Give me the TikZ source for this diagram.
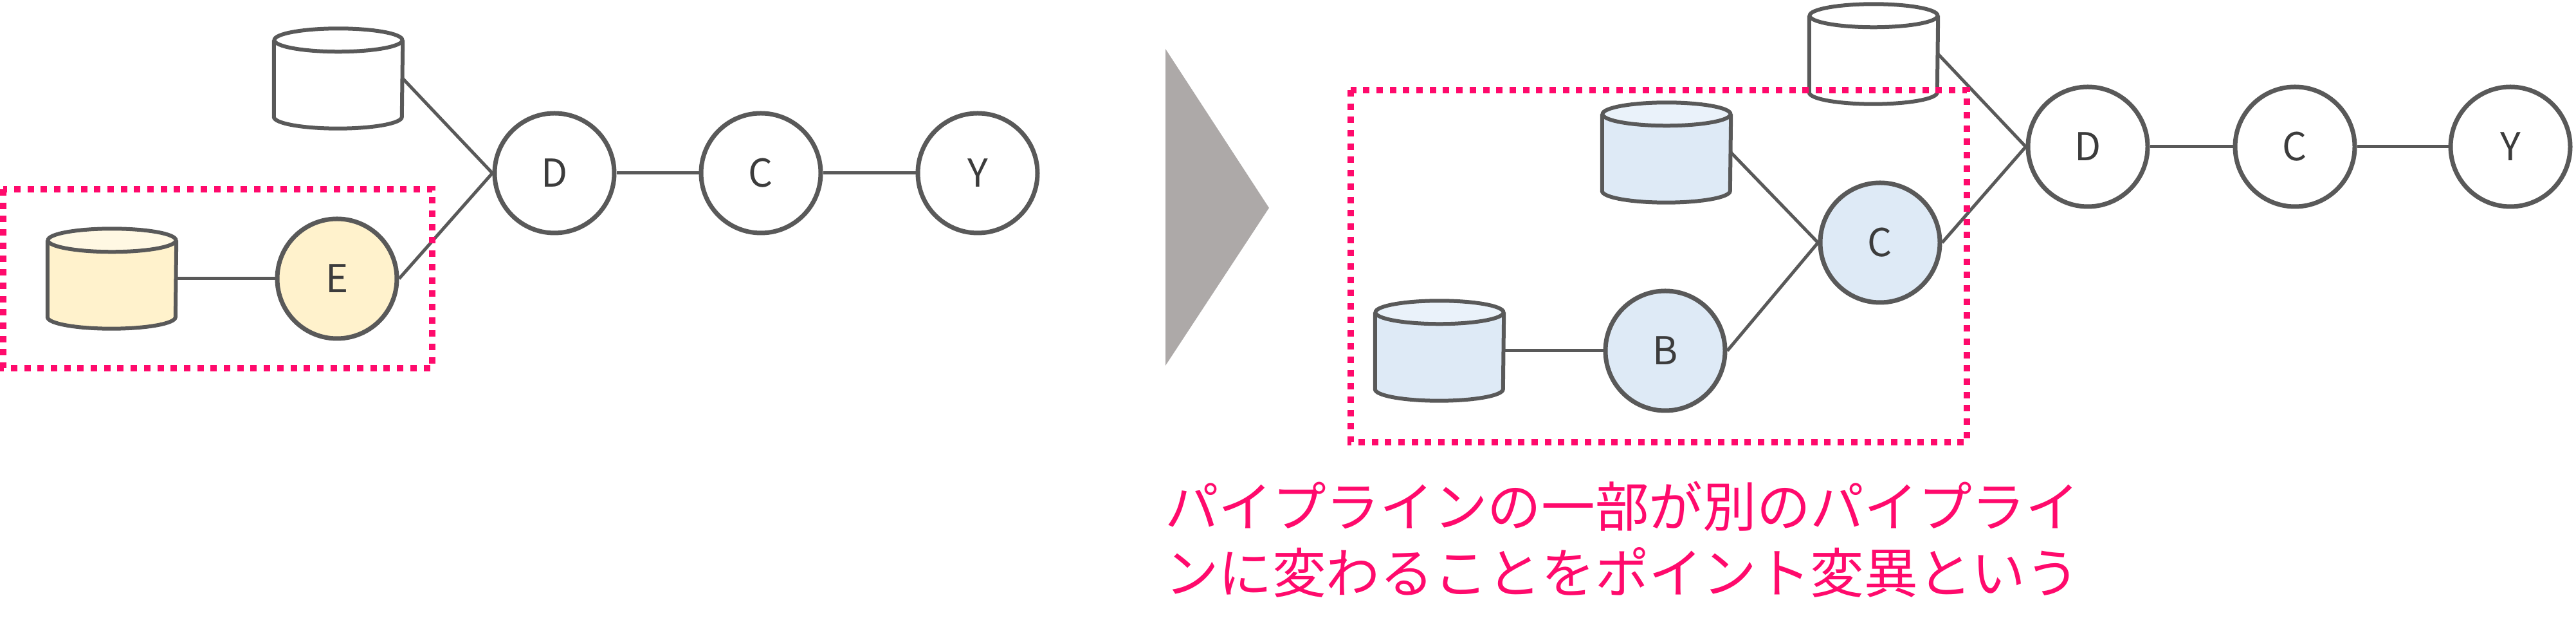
\documentclass[tikz,border=0pt]{standalone}
\usepackage{fontspec}
\usepackage{xcolor}
\newfontfamily\jpfont{Noto Sans CJK JP}

\definecolor{linegray}{HTML}{595959}
\definecolor{lettergray}{HTML}{3C3C3C}
\definecolor{markpink}{HTML}{FF0A6C}
\definecolor{arrowgray}{HTML}{ADA9A8}
\definecolor{oldfill}{HTML}{FFF2CC}
\definecolor{oldtop}{HTML}{FFF8E3}
\definecolor{newfill}{HTML}{DEEAF6}
\definecolor{newtop}{HTML}{EAF2FA}

\tikzset{
  stage/.style={circle, draw=linegray, line width=0.07cm, fill=white,
    minimum size=1.86cm, inner sep=0pt,
    font=\jpfont\fontsize{17pt}{17pt}\selectfont, text=lettergray},
  store/.style={rectangle, minimum width=1.99cm, minimum height=1.54cm, inner sep=0pt},
  drumline/.style={draw=linegray, line width=0.06cm},
  link/.style={draw=linegray, line width=0.05cm},
  changed/.style={draw=markpink, line width=0.1cm, dash pattern=on 0.1cm off 0.107cm}
}

% cylinder drawn over a store node: name, body colour, top colour
\newcommand\drum[3]{%
  \fill[#2] ([yshift=-0.18cm]#1.north west) -- ([yshift=0.18cm]#1.south west)
    arc[start angle=180, end angle=360, x radius=0.995cm, y radius=0.18cm]
    -- ([yshift=-0.18cm]#1.north east) -- cycle;
  \draw[drumline] ([yshift=-0.18cm]#1.north west) -- ([yshift=0.18cm]#1.south west)
    arc[start angle=180, end angle=360, x radius=0.995cm, y radius=0.18cm]
    -- ([yshift=-0.18cm]#1.north east);
  \draw[drumline, fill=#3] ([yshift=-0.18cm]#1.north) ellipse [x radius=0.995cm, y radius=0.18cm];
}

\begin{document}
\begin{tikzpicture}
            \useasboundingbox (0,0) rectangle (40.05,9.99);

            % before
            \node[store] (srcA) at (5.26,8.77) {};
            \node[store] (srcE) at (1.74,5.66) {};
            \drum{srcA}{white}{white}
            \drum{srcE}{oldfill}{oldtop}
            \node[stage, fill=oldfill] (E) at (5.24,5.66) {E};
            \node[stage] (D1) at (8.62,7.30) {D};
            \node[stage] (C1) at (11.83,7.30) {C};
            \node[stage] (Y1) at (15.20,7.30) {Y};

            \draw[link] (srcA.east) -- (D1.west);
            \draw[link] (E.east) -- (D1.west);
            \draw[link] (srcE.east) -- (E.west);
            \draw[link] (D1) -- (C1);
            \draw[link] (C1) -- (Y1);

            \draw[changed] (0.05,7.05) rectangle (6.72,4.27);

            % arrow
            \fill[arrowgray] (18.12,9.23) -- (19.73,6.76) -- (18.12,4.31) -- cycle;

            % after
            \node[store] (srcT) at (29.13,9.15) {};
            \node[store] (srcC) at (25.91,7.62) {};
            \node[store] (srcB) at (22.38,4.54) {};
            \drum{srcT}{white}{white}
            \drum{srcC}{newfill}{newtop}
            \drum{srcB}{newfill}{newtop}
            \node[stage, fill=newfill] (B) at (25.89,4.54) {B};
            \node[stage, fill=newfill] (Cn) at (29.23,6.22) {C};
            \node[stage] (D2) at (32.46,7.71) {D};
            \node[stage] (C2) at (35.68,7.71) {C};
            \node[stage] (Y2) at (39.03,7.71) {Y};

            \draw[link] (srcT.east) -- (D2.west);
            \draw[link] (Cn.east) -- (D2.west);
            \draw[link] (srcC.east) -- (Cn.west);
            \draw[link] (B.east) -- (Cn.west);
            \draw[link] (srcB.east) -- (B.west);
            \draw[link] (D2) -- (C2);
            \draw[link] (C2) -- (Y2);

            \draw[changed] (21.00,8.59) rectangle (30.58,3.12);

            \node[align=left, inner sep=0pt, text=markpink,
              font=\jpfont\fontsize{23.8pt}{29.3pt}\selectfont] (note) at (25.22,1.61)
              {パイプラインの一部が別のパイプライ\\ンに変わることをポイント変異という};
        \end{tikzpicture}
\end{document}
